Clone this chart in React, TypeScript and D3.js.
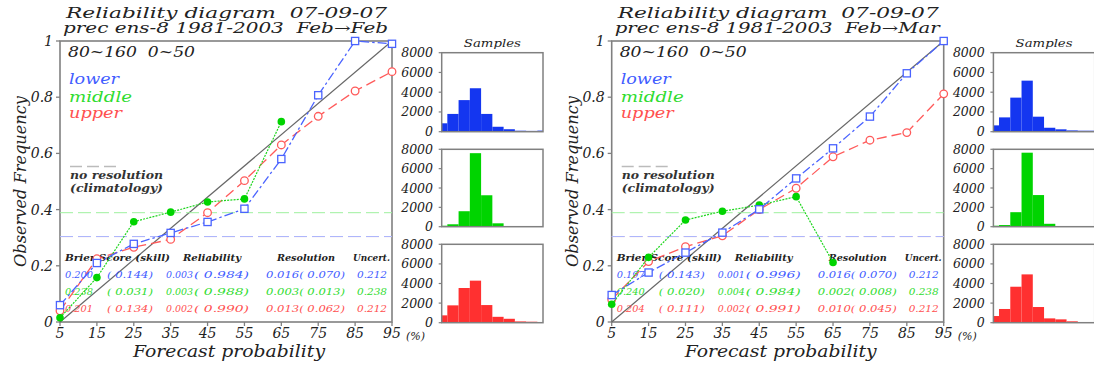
import React from "react";
import * as d3 from "d3";

// ---------- data ----------
const probs = [5, 15, 25, 35, 45, 55, 65, 75, 85, 95];
const panelTitles = ["Feb→Feb", "Feb→Mar"];

// reliability curves (observed frequency per forecast-probability bin)
const lowerFeb = [0.06, 0.21, 0.278, 0.317, 0.356, 0.403, 0.58, 0.807, 1.0, 0.99];
const middleFeb = [0.015, 0.158, 0.357, 0.391, 0.427, 0.438, 0.713];
const upperFeb = [0.04, 0.225, 0.266, 0.294, 0.389, 0.503, 0.63, 0.732, 0.822, 0.891];

const lowerMar = [0.096, 0.176, 0.247, 0.318, 0.401, 0.511, 0.618, 0.731, 0.885, 1.0];
const middleMar = [0.063, 0.23, 0.363, 0.394, 0.416, 0.446, 0.212];
const upperMar = [0.08, 0.215, 0.268, 0.307, 0.4, 0.476, 0.588, 0.647, 0.674, 0.812];

// climatology (no resolution)
const climLower = 0.304;
const climMiddle = 0.389;
const climUpper = 0.304;

// sample histograms
const sampLowerFeb = [850, 1800, 3200, 4400, 1800, 500, 250, 100, 80, 110];
const sampMiddleFeb = [100, 250, 1600, 7600, 3250, 350, 60, 0, 0, 0];
const sampUpperFeb = [750, 1770, 3540, 4290, 1800, 600, 400, 130, 100, 70];

const sampLowerMar = [640, 1450, 3450, 5170, 1520, 400, 240, 130, 100, 100];
const sampMiddleMar = [100, 170, 1500, 7650, 3270, 300, 40, 0, 0, 0];
const sampUpperMar = [680, 1400, 3670, 4930, 1600, 440, 340, 140, 70, 60];

const yTicks = [0, 0.2, 0.4, 0.6, 0.8, 1];
const yTickLabels = ["0", "0.2", "0.4", "0.6", "0.8", "1"];
const histTicks = [0, 2000, 4000, 6000, 8000];

const statHeader = ["Brier Score (skill)", "Reliability", "Resolution", "Uncert."];
const statsFeb = [
  ["0.200", "( 0.144)", "0.003", "( 0.984)", "0.016( 0.070)", "0.212"],
  ["0.238", "( 0.031)", "0.003", "( 0.988)", "0.003( 0.013)", "0.238"],
  ["0.201", "( 0.134)", "0.002", "( 0.990)", "0.013( 0.062)", "0.212"],
];
const statsMar = [
  ["0.197", "( 0.143)", "0.001", "( 0.996)", "0.016( 0.070)", "0.212"],
  ["0.240", "( 0.020)", "0.004", "( 0.984)", "0.002( 0.008)", "0.238"],
  ["0.204", "( 0.111)", "0.002", "( 0.991)", "0.010( 0.045)", "0.212"],
];
const seriesNames = ["lower", "middle", "upper"];

// ---------- style ----------
const FONT = "'DejaVu Serif', serif";
const BLUE_LINE = "#4a63ff";
const GREEN_LINE = "#1fd61f";
const RED_LINE = "#ff5a5a";
const BLUE_TXT = "#3f5cff";
const GREEN_TXT = "#2fdc2f";
const RED_TXT = "#ff5050";
const BLUE_BAR = "#1436f0";
const GREEN_BAR = "#00d400";
const RED_BAR = "#ff3030";
const FRAME = "#808080";
const PRE = { whiteSpace: "pre" as const };

type PanelProps = {
  dx: number;
  title: string;
  lower: number[];
  middle: number[];
  upper: number[];
  sLower: number[];
  sMiddle: number[];
  sUpper: number[];
  stats: string[][];
};

function Panel(p: PanelProps) {
  const { dx } = p;
  const x = d3.scaleLinear().domain([5, 95]).range([60 + dx, 392 + dx]);
  const y = d3.scaleLinear().domain([0, 1]).range([322, 41]);
  const line = d3
    .line<[number, number]>()
    .x((d) => x(d[0]))
    .y((d) => y(d[1]));
  const pts = (vals: number[]) => vals.map((v, i) => [probs[i], v] as [number, number]);

  const statColX = [5, 47, 106, 134, 206, 297];
  const statColW = [28, 46, 27, 55, 79, 30];
  const headerX = [5, 123, 217, 293];
  const headerW = [105, 58, 58, 37];
  const rowColors = [BLUE_TXT, GREEN_TXT, RED_TXT];
  const rowY = [277.5, 294.5, 311.5];

  // histograms
  const hx = d3.scaleLinear().domain([5, 95]).range([441.7 + dx, 543 + dx]);
  const hists = [
    { top: 52.7, bottom: 131.7, data: p.sLower, color: BLUE_BAR },
    { top: 149.3, bottom: 226.7, data: p.sMiddle, color: GREEN_BAR },
    { top: 244.3, bottom: 322.7, data: p.sUpper, color: RED_BAR },
  ];

  return (
    <g>
      {/* titles */}
      <text x={66 + dx} y={18} style={PRE} xmlSpace="preserve" fontFamily={FONT} fontStyle="italic" fontSize={14} fill="#222" textLength={321} lengthAdjust="spacingAndGlyphs">
        {"Reliability diagram  07-09-07"}
      </text>
      <text x={63 + dx} y={32.5} style={PRE} xmlSpace="preserve" fontFamily={FONT} fontStyle="italic" fontSize={14} fill="#222" textLength={325} lengthAdjust="spacingAndGlyphs">
        {"prec ens-8 1981-2003  " + p.title}
      </text>

      {/* frame */}
      <rect x={60 + dx} y={41} width={332} height={281} fill="none" stroke={FRAME} strokeWidth={1.6} />

      {/* y ticks */}
      {yTicks.map((t, i) => (
        <g key={"yt" + i}>
          <line x1={56 + dx} x2={60 + dx} y1={y(t)} y2={y(t)} stroke={FRAME} strokeWidth={1.3} />
          <text x={53 + dx} y={y(t) + 5} textAnchor="end" fontFamily={FONT} fontStyle="italic" fontSize={14} fill="#222">
            {yTickLabels[i]}
          </text>
        </g>
      ))}
      {/* x ticks */}
      {probs.map((t) => (
        <g key={"xt" + t}>
          <line x1={x(t)} x2={x(t)} y1={322} y2={326} stroke={FRAME} strokeWidth={1.3} />
          <text x={x(t)} y={338} textAnchor="middle" fontFamily={FONT} fontStyle="italic" fontSize={14} fill="#222">
            {t}
          </text>
        </g>
      ))}
      <text x={406 + dx} y={340} fontFamily={FONT} fontStyle="italic" fontSize={11} fill="#222">
        (%)
      </text>
      <text x={133 + dx} y={357} fontFamily={FONT} fontStyle="italic" fontSize={16} fill="#222" textLength={192} lengthAdjust="spacingAndGlyphs">
        Forecast probability
      </text>
      <text
        transform={`translate(${26 + dx},${267}) rotate(-90)`}
        fontFamily={FONT}
        fontStyle="italic"
        fontSize={16}
        fill="#222"
        textLength={171}
        lengthAdjust="spacingAndGlyphs"
      >
        Observed Frequency
      </text>

      {/* region label */}
      <text x={68 + dx} y={56.5} style={PRE} xmlSpace="preserve" fontFamily={FONT} fontStyle="italic" fontSize={14.5} fill="#222" textLength={127} lengthAdjust="spacingAndGlyphs">
        {"80~160  0~50"}
      </text>

      {/* legend */}
      {seriesNames.map((n, i) => (
        <text
          key={n}
          x={69 + dx}
          y={[84, 101.5, 117.5][i]}
          fontFamily={FONT}
          fontStyle="italic"
          fontSize={15}
          fill={rowColors[i]}
          textLength={[50, 63, 53][i]}
          lengthAdjust="spacingAndGlyphs"
        >
          {n}
        </text>
      ))}
      <line x1={70 + dx} x2={118 + dx} y1={166.5} y2={166.5} stroke="#bbb" strokeWidth={1.5} strokeDasharray="12,5" />
      <text x={70 + dx} y={179} fontFamily={FONT} fontStyle="italic" fontWeight="bold" fontSize={10.5} fill="#333" textLength={93} lengthAdjust="spacingAndGlyphs">
        no resolution
      </text>
      <text x={70 + dx} y={192} fontFamily={FONT} fontStyle="italic" fontWeight="bold" fontSize={10.5} fill="#333" textLength={93} lengthAdjust="spacingAndGlyphs">
        (climatology)
      </text>

      {/* diagonal */}
      <line x1={x(5)} y1={y(0)} x2={x(95)} y2={y(1)} stroke="#666" strokeWidth={1.2} />

      {/* climatology lines */}
      <line x1={x(5)} x2={x(95)} y1={y(climUpper)} y2={y(climUpper)} stroke="#ffb0b0" strokeWidth={1} strokeDasharray="13,5" />
      <line x1={x(5)} x2={x(95)} y1={y(climMiddle)} y2={y(climMiddle)} stroke="#9ef09e" strokeWidth={1} strokeDasharray="13,5" />
      <line x1={x(5)} x2={x(95)} y1={y(climLower)} y2={y(climLower)} stroke="#a9b6ff" strokeWidth={1} strokeDasharray="13,5" />

      {/* stats table */}
      {statHeader.map((h, i) => (
        <text
          key={"h" + i}
          x={60 + dx + headerX[i]}
          y={261}
          fontFamily={FONT}
          fontStyle="italic"
          fontWeight="bold"
          fontSize={10}
          fill="#222"
          textLength={headerW[i]}
          lengthAdjust="spacingAndGlyphs"
        >
          {h}
        </text>
      ))}
      {p.stats.map((row, r) =>
        row.map((s, c) => (
          <text
            key={"s" + r + "_" + c}
            x={60 + dx + statColX[c]}
            y={rowY[r]}
            style={PRE}
            xmlSpace="preserve"
            fontFamily={FONT}
            fontStyle="italic"
            fontSize={10}
            fill={rowColors[r]}
            textLength={statColW[c]}
            lengthAdjust="spacingAndGlyphs"
          >
            {s}
          </text>
        ))
      )}

      {/* upper (red) */}
      <path d={line(pts(p.upper)) || ""} fill="none" stroke={RED_LINE} strokeWidth={1.3} strokeDasharray="10,5" />
      {pts(p.upper).map((d, i) => (
        <circle key={"u" + i} cx={x(d[0])} cy={y(d[1])} r={3.8} fill="#fff" stroke={RED_LINE} strokeWidth={1.3} />
      ))}
      {/* middle (green) */}
      <path d={line(pts(p.middle)) || ""} fill="none" stroke={GREEN_LINE} strokeWidth={1.2} strokeDasharray="2,1.2" />
      {pts(p.middle).map((d, i) => (
        <circle key={"m" + i} cx={x(d[0])} cy={y(d[1])} r={3.8} fill={GREEN_BAR} />
      ))}
      {/* lower (blue) */}
      <path d={line(pts(p.lower)) || ""} fill="none" stroke={BLUE_LINE} strokeWidth={1.3} strokeDasharray="9,3,2.5,3" />
      {pts(p.lower).map((d, i) => (
        <rect key={"l" + i} x={x(d[0]) - 3.6} y={y(d[1]) - 3.6} width={7.2} height={7.2} fill="#fff" stroke={BLUE_LINE} strokeWidth={1.3} />
      ))}

      {/* histograms */}
      <text x={hx(50)} y={46.5} textAnchor="middle" fontFamily={FONT} fontStyle="italic" fontSize={11} fill="#222" textLength={57} lengthAdjust="spacingAndGlyphs">
        Samples
      </text>
      {hists.map((h, k) => {
        const hy = d3.scaleLinear().domain([0, 8000]).range([h.bottom, h.top]);
        return (
          <g key={"h" + k}>
            {h.data.map((v, i) => {
              const c = probs[i];
              const x0 = hx(Math.max(5, c - 5));
              const x1 = hx(Math.min(95, c + 5));
              return <rect key={i} x={x0} y={hy(v)} width={x1 - x0} height={h.bottom - hy(v)} fill={h.color} />;
            })}
            <rect x={hx(5)} y={h.top} width={hx(95) - hx(5)} height={h.bottom - h.top} fill="none" stroke={FRAME} strokeWidth={1.5} />
            {histTicks.map((t) => (
              <g key={t}>
                <line x1={hx(5) - 3} x2={hx(5)} y1={hy(t)} y2={hy(t)} stroke={FRAME} strokeWidth={1.2} />
                <text x={433 + dx} y={hy(t) + 4.5} textAnchor="end" fontFamily={FONT} fontStyle="italic" fontSize={12.5} fill="#222">
                  {t}
                </text>
              </g>
            ))}
          </g>
        );
      })}
    </g>
  );
}

export default function App() {
  return (
    <svg width={1094} height={367} style={{ position: "absolute", left: 0, top: 0, background: "#fff" }}>
      <rect x={0} y={0} width={1094} height={367} fill="#fff" />
      <Panel
        dx={0}
        title={panelTitles[0]}
        lower={lowerFeb}
        middle={middleFeb}
        upper={upperFeb}
        sLower={sampLowerFeb}
        sMiddle={sampMiddleFeb}
        sUpper={sampUpperFeb}
        stats={statsFeb}
      />
      <Panel
        dx={551.7}
        title={panelTitles[1]}
        lower={lowerMar}
        middle={middleMar}
        upper={upperMar}
        sLower={sampLowerMar}
        sMiddle={sampMiddleMar}
        sUpper={sampUpperMar}
        stats={statsMar}
      />
    </svg>
  );
}
